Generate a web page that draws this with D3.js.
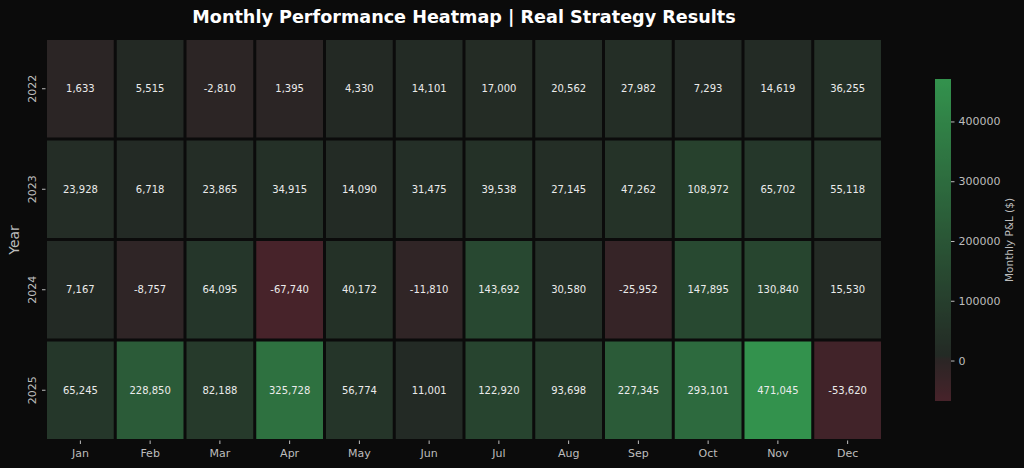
<!DOCTYPE html>
<html><head><meta charset="utf-8">
<script src="https://cdn.jsdelivr.net/npm/d3@7"></script>
<style>
html,body{margin:0;padding:0;background:#0b0b0b;}
svg{display:block;font-family:"DejaVu Sans",sans-serif;}
</style></head>
<body><svg id="c" width="1024" height="468"></svg>
<script>
const months = ["Jan","Feb","Mar","Apr","May","Jun","Jul","Aug","Sep","Oct","Nov","Dec"];
const years = ["2022","2023","2024","2025"];
const pnl2022 = [1633,5515,-2810,1395,4330,14101,17000,20562,27982,7293,14619,36255];
const pnl2023 = [23928,6718,23865,34915,14090,31475,39538,27145,47262,108972,65702,55118];
const pnl2024 = [7167,-8757,64095,-67740,40172,-11810,143692,30580,-25952,147895,130840,15530];
const pnl2025 = [65245,228850,82188,325728,56774,11001,122920,93698,227345,293101,471045,-53620];
const colorbarTicks = [0,100000,200000,300000,400000];
const title = "Monthly Performance Heatmap | Real Strategy Results";
const yLabel = "Year";
const cbLabel = "Monthly P&L ($)";

const rows = [pnl2022,pnl2023,pnl2024,pnl2025];
const cells = [];
rows.forEach((r,i)=>r.forEach((v,j)=>cells.push({year:years[i],month:months[j],value:v})));
const all = cells.map(d=>d.value);
const vmin = d3.min(all), vmax = d3.max(all);

const svg = d3.select("#c");
const W=1024,H=468;
svg.append("rect").attr("width",W).attr("height",H).attr("fill","#0b0b0b");

const x = d3.scaleBand().domain(months).range([45.5,882.5]);
const y = d3.scaleBand().domain(years).range([38.5,440.5]);

const color = d3.scaleLinear()
  .domain([vmin, 0, vmax])
  .range(["#47232a","#2b2525","#3b8f4e"])
  .interpolate(d3.interpolateRgb)
  .clamp(true);
function cellColor(v){
  if (v < 0) return color(v);
  const c = d3.rgb(color(v));
  const k = Math.max(0, Math.min(1, (v-2500)/1500));
  return d3.rgb(c.r - 8*k, c.g + 3*k, c.b - 1*k).toString();
}

const g = svg.append("g");
g.selectAll("rect.cell").data(cells).join("rect")
  .attr("class","cell")
  .attr("x",d=>x(d.month)+1.5)
  .attr("y",d=>y(d.year)+1.5)
  .attr("width",x.bandwidth()-3)
  .attr("height",y.bandwidth()-3)
  .attr("fill",d=>cellColor(d.value));

const fmt = v => d3.format(",")(v).replace("\u2212","-");
g.selectAll("text.ann").data(cells).join("text")
  .attr("class","ann")
  .attr("x",d=>x(d.month)+x.bandwidth()/2)
  .attr("y",d=>y(d.year)+y.bandwidth()/2)
  .attr("text-anchor","middle").attr("dominant-baseline","central")
  .attr("fill","#ebebeb").attr("font-size","10px")
  .text(d=>fmt(d.value));

// x axis
const xa = svg.append("g").attr("transform","translate(0,440.5)")
  .call(d3.axisBottom(x).tickSize(3.5).tickPadding(5));
xa.select(".domain").remove();
xa.selectAll("line").attr("stroke","#bdbdbd");
xa.selectAll("text").attr("fill","#bdbdbd").attr("font-size","11px").attr("font-family","DejaVu Sans");

// y axis
const ya = svg.append("g").attr("transform","translate(45.5,0)")
  .call(d3.axisLeft(y).tickSize(3.5).tickPadding(4));
ya.select(".domain").remove();
ya.selectAll("line").attr("stroke","#bdbdbd");
ya.selectAll(".tick text").attr("fill","#bdbdbd").attr("font-size","11px").attr("font-family","DejaVu Sans")
  .attr("text-anchor","middle").attr("dy","0").attr("x",0).attr("y",0)
  .attr("dominant-baseline","middle")
  .attr("transform","translate(-13,0) rotate(-90)");

svg.append("text").attr("transform","translate(15,240) rotate(-90)")
  .attr("text-anchor","middle").attr("dominant-baseline","middle")
  .attr("fill","#bdbdbd").attr("font-size","14px").text(yLabel);

svg.append("text").attr("x",464).attr("y",23)
  .attr("text-anchor","middle").attr("fill","#ffffff")
  .attr("font-weight","bold").attr("font-size","17.6px").text(title);

// colorbar
const cbX=935, cbW=16, cbTop=79, cbBot=401;
const cy = d3.scaleLinear().domain([vmin,vmax]).range([cbBot,cbTop]);
const defs = svg.append("defs");
const grad = defs.append("linearGradient").attr("id","cbg").attr("x1",0).attr("y1",1).attr("x2",0).attr("y2",0);
d3.range(0,1.0001,0.01).forEach(t=>{
  const v = vmin + t*(vmax-vmin);
  grad.append("stop").attr("offset",t).attr("stop-color",cellColor(v));
});
svg.append("rect").attr("x",cbX).attr("y",cbTop).attr("width",cbW).attr("height",cbBot-cbTop).attr("fill","url(#cbg)");
const ca = svg.append("g").attr("transform",`translate(${cbX+cbW},0)`)
  .call(d3.axisRight(cy).tickValues(colorbarTicks).tickFormat(d3.format("d")).tickSize(3.5).tickPadding(4));
ca.select(".domain").remove();
ca.selectAll("line").attr("stroke","#bdbdbd");
ca.selectAll("text").attr("fill","#bdbdbd").attr("font-size","11px").attr("font-family","DejaVu Sans");

svg.append("text").attr("transform","translate(1010,240) rotate(-90)")
  .attr("text-anchor","middle").attr("dominant-baseline","middle")
  .attr("fill","#bdbdbd").attr("font-size","10.5px").text(cbLabel);
</script></body></html>
